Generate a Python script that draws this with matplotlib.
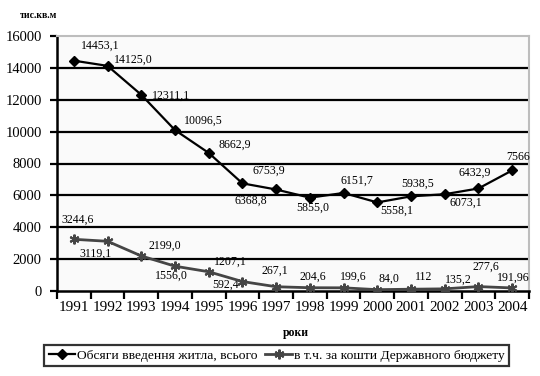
import numpy as np
import matplotlib.pyplot as plt

# дані
years = ['1991', '1992', '1993', '1994', '1995', '1996', '1997',
         '1998', '1999', '2000', '2001', '2002', '2003', '2004']
total = [14453.1, 14125.0, 12311.1, 10096.5, 8662.9, 6753.9, 6368.8,
         5855.0, 6151.7, 5558.1, 5938.5, 6073.1, 6432.9, 7566]
total_lbl = ['14453,1', '14125,0', '12311,1', '10096,5', '8662,9', '6753,9', '6368,8',
             '5855,0', '6151,7', '5558,1', '5938,5', '6073,1', '6432,9', '7566']
budget = [3244.6, 3119.1, 2199.0, 1556.0, 1207.1, 592.4, 267.1,
          204.6, 199.6, 84.0, 112, 135.2, 277.6, 191.96]
budget_lbl = ['3244,6', '3119,1', '2199,0', '1556,0', '1207,1', '592,4', '267,1',
              '204,6', '199,6', '84,0', '112', '135,2', '277,6', '191,96']
yticks = [0, 2000, 4000, 6000, 8000, 10000, 12000, 14000, 16000]

# зсуви підписів (пікселі)
total_off = [(26, 15), (26, 6), (30, -1), (28, 9), (26, 8), (26, 13), (-25, -11),
             (3, -10), (13, 12), (19, -8), (7, 13), (21, -9), (-4, 16), (6, 13)]
budget_off = [(4, 20), (-12, -12), (24, 10), (-4, -10), (22, 10), (-17, -3), (-1, 16),
              (3, 11), (10, 11), (12, 11), (13, 12), (14, 9), (7, 20), (1, 10)]

plt.rcParams['font.family'] = ['Liberation Serif', 'DejaVu Serif']

fig = plt.figure(figsize=(5.4, 3.76), dpi=100)
ax = fig.add_axes([57/540, 1-291/376, (529-57)/540, (291-36)/376])
ax.set_facecolor('#fafafa')

x = np.arange(len(years))

ax.plot(x, total, color='black', lw=1.6, marker='D', ms=5, zorder=4,
        label='Обсяги введення житла, всього')
ax.plot(x, budget, color='#454545', lw=2, marker=(6, 2, 0), ms=7, mew=1.5,
        zorder=4, label='в т.ч. за кошти Державного бюджету')

for i in range(len(x)):
    ax.annotate(total_lbl[i], (x[i], total[i]), xytext=total_off[i],
                textcoords='offset pixels', ha='center', va='center', fontsize=8.6)
    ax.annotate(budget_lbl[i], (x[i], budget[i]), xytext=budget_off[i],
                textcoords='offset pixels', ha='center', va='center', fontsize=8.6)

ax.set_xlim(-0.5, len(years) - 0.5)
ax.set_ylim(0, 16000)
ax.set_yticks(yticks)
ax.set_yticklabels([str(v) for v in yticks], fontsize=10.5)
for v in yticks[1:-1]:
    ax.axhline(v, color='black', lw=1.6, zorder=1)

ax.set_xticks(np.arange(-0.5, len(years)), minor=False)
ax.set_xticklabels([])
ax.set_xticks(x, minor=True)
ax.set_xticklabels(years, minor=True, fontsize=11)
ax.tick_params(axis='x', which='major', length=6, width=1.6, direction='out')
ax.tick_params(axis='x', which='minor', length=0, pad=7)
ax.tick_params(axis='y', length=5, width=1.6, pad=6)

ax.spines['left'].set_linewidth(1.8)
ax.spines['bottom'].set_linewidth(1.8)
ax.spines['top'].set_color('#bdbdbd')
ax.spines['right'].set_color('#bdbdbd')
ax.spines['top'].set_linewidth(1.5)
ax.spines['right'].set_linewidth(1.5)

fig.text(20/540, 1-15/376, 'тис.кв.м', fontsize=7, fontweight='bold', va='center')
fig.text(296/540, 1-333/376, 'роки', fontsize=8.5, fontweight='bold', ha='center', va='center')

leg = fig.legend(loc='center', bbox_to_anchor=(276.5/540, 1-355.5/376), ncol=2,
                 fontsize=9.7, frameon=True, fancybox=False, handlelength=2.0,
                 handletextpad=0.1, columnspacing=0.6, borderpad=0.3)
leg.get_frame().set_edgecolor('black')
leg.get_frame().set_linewidth(1.6)

fig.savefig('out.png', dpi=100, facecolor='white')
